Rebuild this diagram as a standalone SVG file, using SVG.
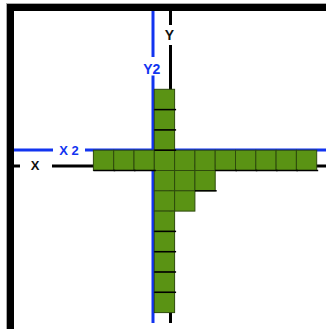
<svg xmlns="http://www.w3.org/2000/svg" xmlns:xlink="http://www.w3.org/1999/xlink" width="326" height="329" viewBox="0 0 326 329">
<style>
.blue{stroke:#1234f0;stroke-width:3;fill:none}
.blk{stroke:#000;stroke-width:3;fill:none}
.lbl{font-family:"Liberation Sans",Arial,sans-serif;font-weight:bold;text-anchor:middle}
.lb{fill:#1234f0}
.lk{fill:#111}
</style>
<defs>
<rect id="sq" x="0" y="0" width="20.3" height="20.3" fill="#5a9314" stroke="#2e4a0c" stroke-width="1"/>
<line id="sh" x1="0" y1="20.3" x2="21.8" y2="20.3" stroke="#000" stroke-width="1.5"/>
</defs>
<rect width="326" height="329" fill="#fff"/>
<g id="frame">
<rect x="6.5" y="3.5" width="340" height="340" fill="none" stroke="#aaa" stroke-width="1"/>
<rect x="10.5" y="7.5" width="340" height="340" fill="none" stroke="#000" stroke-width="7"/>
</g>
<g id="axes">
<line class="blue" x1="153" y1="11" x2="153" y2="57"/>
<line class="blue" x1="153" y1="75.5" x2="153" y2="323"/>
<line class="blk" x1="170.5" y1="11" x2="170.5" y2="25"/>
<line class="blk" x1="170.5" y1="45" x2="170.5" y2="323"/>
<line class="blue" x1="14" y1="150" x2="53" y2="150"/>
<line class="blue" x1="85" y1="150" x2="326" y2="150"/>
<line class="blk" x1="14" y1="166" x2="20" y2="166"/>
<line class="blk" x1="52" y1="166" x2="326" y2="166"/>
</g>
<g id="labels">
<text class="lbl lk" x="169.5" y="39.5" font-size="14">Y</text>
<text class="lbl lb" x="151.7" y="73.5" font-size="14">Y2</text>
<text class="lbl lb" x="69" y="154.5" font-size="13">X 2</text>
<text class="lbl lk" x="35" y="170" font-size="13">X</text>
</g>
<g id="squares">
<use xlink:href="#sq" x="154.3" y="89.3"/>
<use xlink:href="#sq" x="154.3" y="109.6"/>
<use xlink:href="#sq" x="154.3" y="129.9"/>
<use xlink:href="#sq" x="93.4" y="150.2"/>
<use xlink:href="#sq" x="113.7" y="150.2"/>
<use xlink:href="#sq" x="134" y="150.2"/>
<use xlink:href="#sq" x="154.3" y="150.2"/>
<use xlink:href="#sq" x="174.6" y="150.2"/>
<use xlink:href="#sq" x="194.9" y="150.2"/>
<use xlink:href="#sq" x="215.2" y="150.2"/>
<use xlink:href="#sq" x="235.5" y="150.2"/>
<use xlink:href="#sq" x="255.8" y="150.2"/>
<use xlink:href="#sq" x="276.1" y="150.2"/>
<use xlink:href="#sq" x="296.4" y="150.2"/>
<use xlink:href="#sq" x="154.3" y="170.5"/>
<use xlink:href="#sq" x="174.6" y="170.5"/>
<use xlink:href="#sq" x="194.9" y="170.5"/>
<use xlink:href="#sq" x="154.3" y="190.8"/>
<use xlink:href="#sq" x="174.6" y="190.8"/>
<use xlink:href="#sq" x="154.3" y="211.1"/>
<use xlink:href="#sq" x="154.3" y="231.4"/>
<use xlink:href="#sq" x="154.3" y="251.7"/>
<use xlink:href="#sq" x="154.3" y="272"/>
<use xlink:href="#sq" x="154.3" y="292.3"/>
</g>
<g id="shadows">
<use xlink:href="#sh" x="154.3" y="89.3"/>
<use xlink:href="#sh" x="154.3" y="109.6"/>
<use xlink:href="#sh" x="154.3" y="129.9"/>
<use xlink:href="#sh" x="93.4" y="150.2"/>
<use xlink:href="#sh" x="113.7" y="150.2"/>
<use xlink:href="#sh" x="134" y="150.2"/>
<use xlink:href="#sh" x="215.2" y="150.2"/>
<use xlink:href="#sh" x="235.5" y="150.2"/>
<use xlink:href="#sh" x="255.8" y="150.2"/>
<use xlink:href="#sh" x="276.1" y="150.2"/>
<use xlink:href="#sh" x="296.4" y="150.2"/>
<use xlink:href="#sh" x="194.9" y="170.5"/>
<use xlink:href="#sh" x="154.3" y="211.1"/>
<use xlink:href="#sh" x="154.3" y="231.4"/>
<use xlink:href="#sh" x="154.3" y="251.7"/>
<use xlink:href="#sh" x="154.3" y="272"/>
</g>
</svg>
